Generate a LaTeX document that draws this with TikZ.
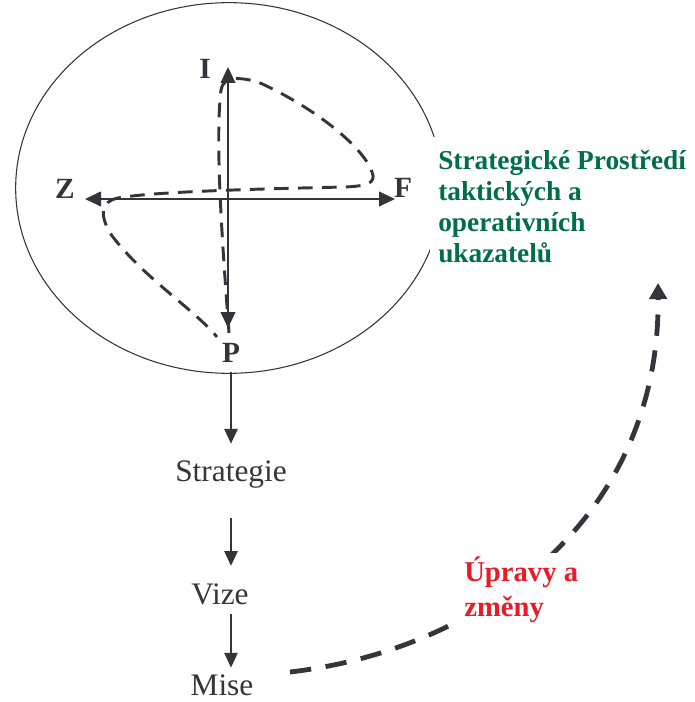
\documentclass[tikz,border=0pt]{standalone}
\usepackage{fontspec}
\setmainfont{Liberation Serif}
\definecolor{inkgray}{RGB}{52, 52, 58}
\definecolor{envgreen}{RGB}{0, 110, 70}
\definecolor{changered}{RGB}{232, 28, 40}
\usepackage{tikz}
\usetikzlibrary{arrows.meta, positioning, calc}

\tikzset{
  axisline/.style={draw=inkgray, line width=1.5pt, -{Triangle[length=12pt, width=11pt]}},
  loopline/.style={draw=inkgray, line width=2.2pt, dash pattern=on 11pt off 7pt},
  flowline/.style={draw=inkgray, line width=1pt, -{Triangle[length=11pt, width=10pt]}},
  backline/.style={draw=inkgray, line width=3.6pt, dash pattern=on 16pt off 11pt,
    -{Triangle[length=12pt, width=13pt]}},
  pole/.style={font=\bfseries\fontsize{22}{26}\selectfont, text=inkgray, inner sep=1pt},
  level/.style={font=\fontsize{23.5}{28}\selectfont, text=inkgray, inner sep=2pt},
}

\begin{document}
\begin{tikzpicture}[x=0.75pt, y=-0.75pt]
  \useasboundingbox (0,0) rectangle (694,702);

  \coordinate (hub) at (228,199);
  \draw[inkgray, line width=0.8pt] (229,188) ellipse [x radius=160pt, y radius=139pt];

  \coordinate (Itip) at (228,67);
  \coordinate (Ptip) at (228,328);
  \coordinate (Ztip) at (85,199);
  \coordinate (Ftip) at (395,199);
  \draw[axisline] (hub) -- (Itip);
  \draw[axisline] (hub) -- (Ptip);
  \draw[axisline] (hub) -- (Ztip);
  \draw[axisline] (hub) -- (Ftip);

  \node[pole] (I) at (205,69) {I};
  \node[pole] (Z) at (65,189) {Z};
  \node[pole] (F) at (403,188) {F};
  \node[pole] (P) at (231,353) {P};

  \draw[loopline] (229,333) .. controls (222,240) and (215,140) .. (221,90)
    .. controls (223,76) and (240,77) .. (258,82)
    .. controls (320,110) and (365,150) .. (372,172)
    .. controls (377,184) and (365,186) .. (345,187)
    .. controls (250,189) and (150,192) .. (118,198)
    .. controls (100,202) and (100,215) .. (110,233)
    .. controls (140,275) and (195,310) .. (217,337);

  \node[font=\bfseries\fontsize{20.5}{23.25}\selectfont, text=envgreen, align=left,
        fill=white, inner xsep=6pt, inner ysep=10pt, anchor=north west] (env) at (430,137)
    {Strategické Prostředí\\taktických a\\operativních\\ukazatelů};

  \node[level] (strat) at (231,475) {Strategie};
  \node[level] (vize) at (220,594) {Vize};
  \node[level] (mise) at (222,685) {Mise};

  \draw[flowline, shorten <=6pt, shorten >=11pt] (P.south) -- (P.south |- strat.north);
  \draw[flowline, shorten <=20pt, shorten >=11pt] (P |- strat.south) -- (P |- vize.north);
  \draw[flowline, shorten <=5pt, shorten >=3pt] (P |- vize.south) -- (P |- mise.north);

  \coordinate (backfrom) at (290,672);
  \coordinate (backto) at (658,283);
  \draw[backline] (backfrom) .. controls (480,650) and (660,520) .. (backto);

  \node[font=\bfseries\fontsize{21.5}{26}\selectfont, text=changered, align=left,
        fill=white, inner sep=3pt, anchor=north west] (upravy) at (460,553)
    {Úpravy a\\změny};
\end{tikzpicture}
\end{document}
